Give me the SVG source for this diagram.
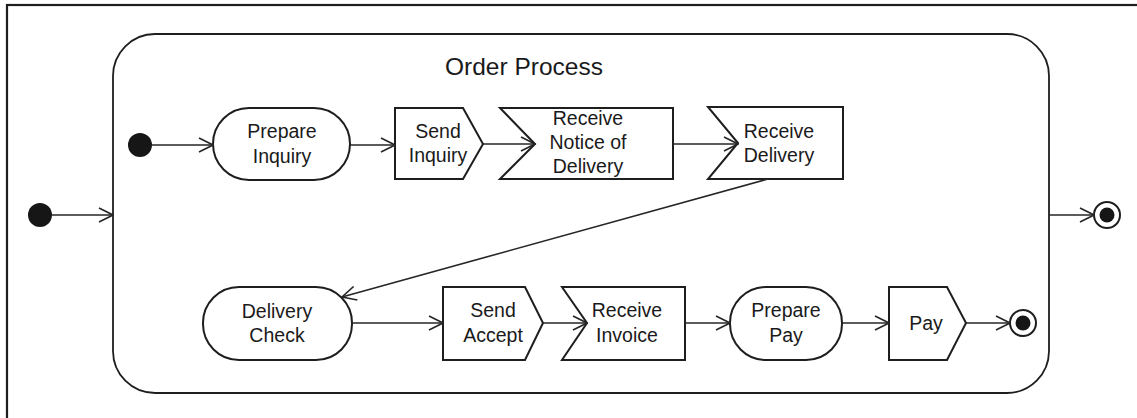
<svg xmlns="http://www.w3.org/2000/svg" width="1137" height="418" viewBox="0 0 1137 418">
  <defs>
    <style>
      .frame { fill: none; stroke: #1e1e1e; stroke-width: 2.2; }
      .act { fill: #ffffff; stroke: #1e1e1e; stroke-width: 2; }
      .flow { fill: none; stroke: #262626; stroke-width: 1.6; }
      .lbl { font-family: "Liberation Sans", Arial, sans-serif; font-size: 19.5px; fill: #1a1a1a; text-anchor: middle; }
      .title { font-family: "Liberation Sans", Arial, sans-serif; font-size: 24.5px; fill: #1a1a1a; text-anchor: middle; }
      .start { fill: #161616; }
    </style>
    <marker id="open" viewBox="0 0 16 16" refX="15" refY="8" markerWidth="16" markerHeight="16" markerUnits="userSpaceOnUse" orient="auto">
      <path d="M1,1 L15,8 L1,15" fill="none" stroke="#262626" stroke-width="1.6"/>
    </marker>
  </defs>

  <rect width="1137" height="418" fill="#ffffff"/>

  <!-- outer diagram frame, running past the right and bottom edges -->
  <rect class="frame" x="7" y="5" width="1160" height="440"/>

  <!-- Order Process activity -->
  <g id="order-process">
    <rect class="frame" x="113" y="34" width="936" height="359" rx="42" ry="42" style="stroke-width:1.8"/>
    <text class="title" x="524" y="75">Order Process</text>
  </g>

  <g id="outer-initial"><circle class="start" cx="40" cy="215" r="12"/></g>
  <g id="inner-initial"><circle class="start" cx="140" cy="145" r="12"/></g>

  <g id="prepare-inquiry">
    <rect class="act" x="213" y="108" width="137" height="72" rx="36" ry="36"/>
    <text class="lbl" x="282" y="138">Prepare</text>
    <text class="lbl" x="282" y="163">Inquiry</text>
  </g>

  <g id="send-inquiry">
    <path class="act" d="M395,108 L463,108 L483,144 L463,179 L395,179 Z"/>
    <text class="lbl" x="438" y="138">Send</text>
    <text class="lbl" x="438" y="162">Inquiry</text>
  </g>

  <g id="receive-notice">
    <path class="act" d="M500,108 L673,108 L673,179 L500,179 L535,144 Z"/>
    <text class="lbl" x="588" y="125">Receive</text>
    <text class="lbl" x="588" y="149">Notice of</text>
    <text class="lbl" x="588" y="173">Delivery</text>
  </g>

  <g id="receive-delivery">
    <path class="act" d="M708,107 L843,107 L843,179 L708,179 L738,143 Z"/>
    <text class="lbl" x="779" y="138">Receive</text>
    <text class="lbl" x="779" y="162">Delivery</text>
  </g>

  <g id="delivery-check">
    <rect class="act" x="203" y="287" width="149" height="73" rx="36" ry="36"/>
    <text class="lbl" x="277" y="318">Delivery</text>
    <text class="lbl" x="277" y="342">Check</text>
  </g>

  <g id="send-accept">
    <path class="act" d="M443,287 L525,287 L543,323 L525,360 L443,360 Z"/>
    <text class="lbl" x="493" y="317">Send</text>
    <text class="lbl" x="493" y="342">Accept</text>
  </g>

  <g id="receive-invoice">
    <path class="act" d="M562,287 L685,287 L685,360 L562,360 L587,323 Z"/>
    <text class="lbl" x="627" y="317">Receive</text>
    <text class="lbl" x="627" y="342">Invoice</text>
  </g>

  <g id="prepare-pay">
    <rect class="act" x="730" y="287" width="112" height="73" rx="36" ry="36"/>
    <text class="lbl" x="786" y="317">Prepare</text>
    <text class="lbl" x="786" y="342">Pay</text>
  </g>

  <g id="pay">
    <path class="act" d="M889,287 L947,287 L966,323 L947,360 L889,360 Z"/>
    <text class="lbl" x="926" y="330">Pay</text>
  </g>

  <g id="inner-final">
    <circle cx="1023" cy="323" r="13" fill="#ffffff" stroke="#1e1e1e" stroke-width="2"/>
    <circle cx="1023" cy="323" r="7.5" fill="#161616"/>
  </g>

  <g id="outer-final">
    <circle cx="1107" cy="215" r="13" fill="#ffffff" stroke="#1e1e1e" stroke-width="2"/>
    <circle cx="1107" cy="215" r="7.5" fill="#161616"/>
  </g>

  <!-- control flows -->
  <g id="connectors">
    <line class="flow" x1="52" y1="215" x2="113" y2="215" marker-end="url(#open)"/>
    <line class="flow" x1="152" y1="145" x2="213" y2="145" marker-end="url(#open)"/>
    <line class="flow" x1="350" y1="145" x2="395" y2="145" marker-end="url(#open)"/>
    <line class="flow" x1="483" y1="144" x2="535" y2="144" marker-end="url(#open)"/>
    <line class="flow" x1="673" y1="144" x2="738" y2="144" marker-end="url(#open)"/>
    <line class="flow" x1="768" y1="179" x2="342" y2="297" marker-end="url(#open)"/>
    <line class="flow" x1="352" y1="323" x2="443" y2="323" marker-end="url(#open)"/>
    <line class="flow" x1="543" y1="323" x2="587" y2="323" marker-end="url(#open)"/>
    <line class="flow" x1="685" y1="323" x2="730" y2="323" marker-end="url(#open)"/>
    <line class="flow" x1="842" y1="323" x2="889" y2="323" marker-end="url(#open)"/>
    <line class="flow" x1="966" y1="323" x2="1010" y2="323" marker-end="url(#open)"/>
    <line class="flow" x1="1049" y1="215" x2="1094" y2="215" marker-end="url(#open)"/>
  </g>
</svg>
